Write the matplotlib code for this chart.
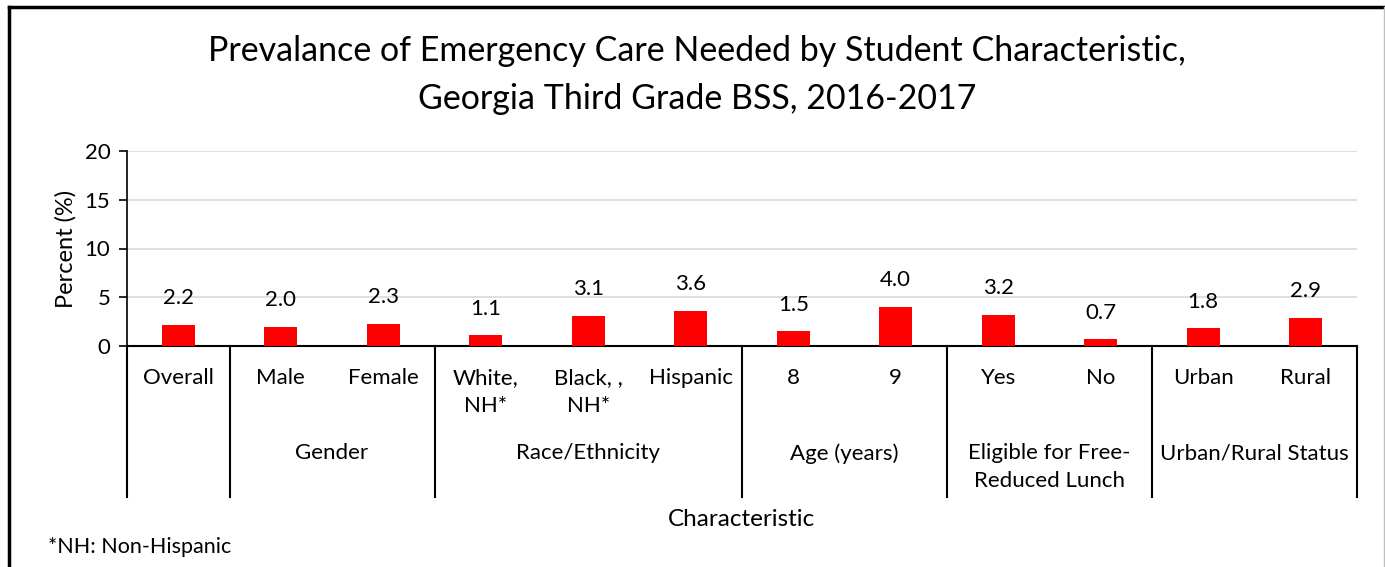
import matplotlib.pyplot as plt
from matplotlib.lines import Line2D

plt.rcParams['font.family'] = ['Lato', 'DejaVu Sans']

# Data
categories = ['Overall', 'Male', 'Female', 'White,\nNH*', 'Black, ,\nNH*', 'Hispanic',
              '8', '9', 'Yes', 'No', 'Urban', 'Rural']
values = [2.2, 2.0, 2.3, 1.1, 3.1, 3.6, 1.5, 4.0, 3.2, 0.7, 1.8, 2.9]
groups = ['', 'Gender', 'Race/Ethnicity', 'Age (years)',
          'Eligible for Free-\nReduced Lunch', 'Urban/Rural Status']
group_sizes = [1, 2, 3, 2, 2, 2]

W, H = 1385, 567
fig = plt.figure(figsize=(W / 100, H / 100), dpi=100)
ax = fig.add_axes([127 / W, 1 - 346 / H, (1357 - 127) / W, (346 - 151) / H])

x = list(range(len(categories)))
ax.bar(x, values, width=0.32, color='#FF0000', zorder=3)
for xi, v in zip(x, values):
    ax.annotate(f'{v:.1f}', (xi, v), xytext=(0, 12), textcoords='offset points',
                ha='center', va='bottom', fontsize=16)

ax.set_xlim(-0.5, len(categories) - 0.5)
ax.set_ylim(0, 20)
ax.set_yticks([0, 5, 10, 15, 20])
ax.yaxis.grid(True, color='#D9D9D9', linewidth=1.2)
ax.set_axisbelow(True)
ax.tick_params(axis='y', labelsize=16, length=6, width=1.2, direction='out', pad=6)
ax.set_xticks([])
for side in ['top', 'right']:
    ax.spines[side].set_visible(False)
ax.spines['left'].set_linewidth(1.2)
ax.spines['bottom'].set_linewidth(1.5)
ax.set_ylabel('Percent (%)', fontsize=17, labelpad=6)

# two-level category axis
tr = ax.get_xaxis_transform()
for xi, lab in zip(x, categories):
    ax.text(xi, -0.115, lab, transform=tr, ha='center', va='top', fontsize=16,
            linespacing=1.5)
start = -0.5
bounds = [start]
for g, n in zip(groups, group_sizes):
    end = start + n
    ax.text((start + end) / 2, -0.5, g, transform=tr, ha='center', va='top',
            fontsize=16, linespacing=1.5)
    bounds.append(end)
    start = end
for b in bounds:
    ax.add_line(Line2D([b, b], [0, -0.775], transform=tr, color='black',
                       linewidth=1.5, clip_on=False))

fig.text(742 / W, 1 - 520 / H, 'Characteristic', ha='center', va='center', fontsize=17.5)
fig.text(48 / W, 1 - 547 / H, '*NH: Non-Hispanic', ha='left', va='center', fontsize=15.5)
fig.text(697 / W, 1 - 75 / H,
         'Prevalance of Emergency Care Needed by Student Characteristic,\n'
         'Georgia Third Grade BSS, 2016-2017',
         ha='center', va='center', fontsize=24.5, linespacing=1.6)

# outer border
fig.add_artist(Line2D([8.5 / W, 8.5 / W], [0, 1 - 6.5 / H], color='black', linewidth=2.5))
fig.add_artist(Line2D([8.5 / W, 1384 / W], [1 - 6.5 / H, 1 - 6.5 / H], color='black', linewidth=2.5))
fig.add_artist(Line2D([1384 / W, 1384 / W], [0, 1 - 6.5 / H], color='#BFBFBF', linewidth=1))

fig.savefig('out.png', dpi=100)
